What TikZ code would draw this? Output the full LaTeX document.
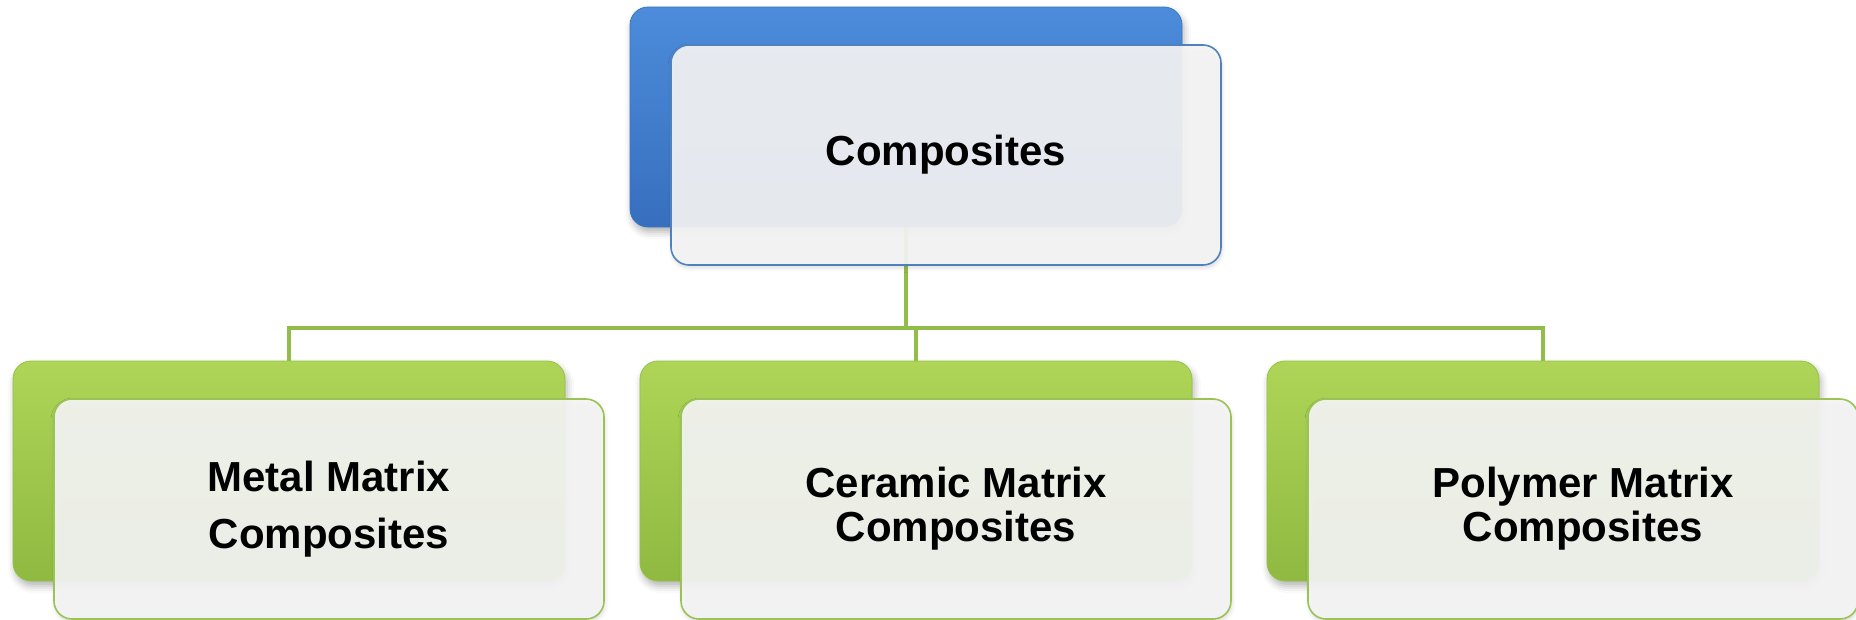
\documentclass[tikz,border=0pt]{standalone}
\usepackage{fontspec}
\setmainfont{Liberation Sans}
\usetikzlibrary{shadows.blur}

\definecolor{blueTop}{HTML}{4C8CDA}
\definecolor{blueMid}{HTML}{4283D3}
\definecolor{blueBot}{HTML}{376FBE}
\definecolor{blueEdge}{HTML}{3A75C0}
\definecolor{greenTop}{HTML}{AED557}
\definecolor{greenMid}{HTML}{A6CF50}
\definecolor{greenBot}{HTML}{8FB941}
\definecolor{greenEdge}{HTML}{95C246}
\definecolor{linkGreen}{HTML}{92BD48}
\definecolor{frontFill}{HTML}{F5F5F5}
\definecolor{frontBlue}{HTML}{4F81BD}
\definecolor{frontGreen}{HTML}{9BC255}

\begin{document}
\begin{tikzpicture}[x=1pt,y=-1pt,
  backbox/.style={rounded corners=18pt, minimum width=552pt, minimum height=220pt,
    inner sep=0pt, line width=0.8pt,
    blur shadow={shadow xshift=2pt, shadow yshift=-5pt, shadow blur radius=7pt, shadow opacity=30}},
  blueback/.style={backbox, top color=blueTop, middle color=blueMid, bottom color=blueBot, draw=blueEdge},
  greenback/.style={backbox, top color=greenTop, middle color=greenMid, bottom color=greenBot, draw=greenEdge},
  frontbox/.style={rounded corners=18pt, minimum width=550pt, minimum height=220pt,
    inner sep=0pt, fill=frontFill, fill opacity=0.92, text opacity=1, line width=1.6pt,
    align=center, text=black,
    blur shadow={shadow xshift=1pt, shadow yshift=-3pt, shadow blur radius=4pt, shadow opacity=15}},
  bluefront/.style={frontbox, draw=frontBlue},
  greenfront/.style={frontbox, draw=frontGreen},
  link/.style={draw=linkGreen, line width=4.5pt}
]
\useasboundingbox (0,0) rectangle (1856,619);

% back plates
\node[blueback]  (rootback) at (906,117) {};
\node[greenback] (mmcback)  at (289,471) {};
\node[greenback] (cmcback)  at (916,471) {};
\node[greenback] (pmcback)  at (1543,471) {};

% tree connectors
\coordinate (bus) at (906,328);
\draw[link] (rootback.south) -- (bus);
\draw[link] (bus) -| (mmcback.north);
\draw[link] (bus) -| (cmcback.north);
\draw[link] (bus) -| (pmcback.north);

% front cards with labels
\node[bluefront, font=\fontsize{42}{50}\selectfont\bfseries] (root) at (946,155) {Composites};
\node[greenfront, font=\fontsize{42}{57}\selectfont\bfseries] (mmc) at (329,509) {Metal Matrix\\Composites};
\node[greenfront, font=\fontsize{42}{44}\selectfont\bfseries] (cmc) at (956,509) {Ceramic Matrix\\Composites};
\node[greenfront, font=\fontsize{42}{44}\selectfont\bfseries] (pmc) at (1583,509) {Polymer Matrix\\Composites};
\end{tikzpicture}
\end{document}
